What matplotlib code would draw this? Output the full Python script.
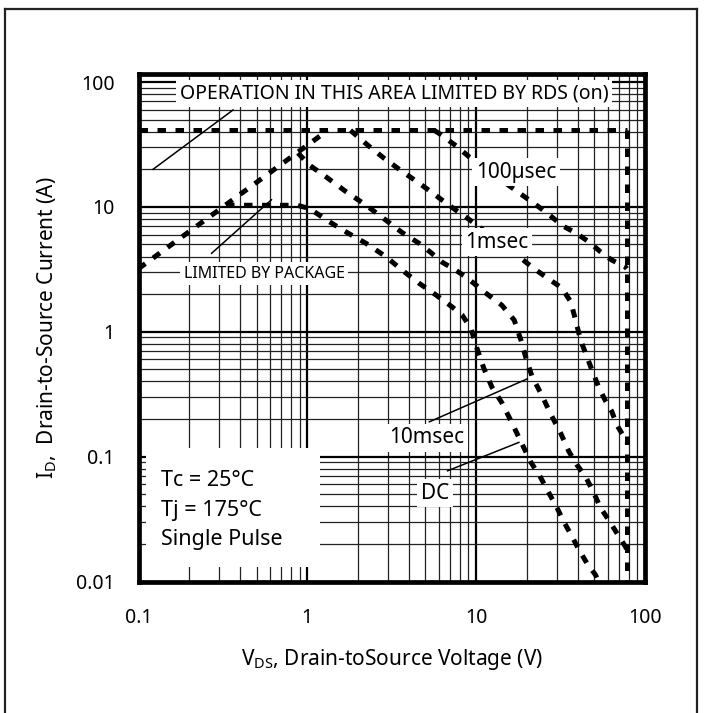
import matplotlib
matplotlib.use('Agg')
import matplotlib.pyplot as plt
from matplotlib.patches import Rectangle
from matplotlib.lines import Line2D
from matplotlib.ticker import LogLocator, FixedLocator, FixedFormatter, NullFormatter

plt.rcParams['font.family'] = ['Noto Sans', 'DejaVu Sans']
plt.rcParams['mathtext.fontset'] = 'custom'
plt.rcParams['mathtext.rm'] = 'Noto Sans'
plt.rcParams['mathtext.it'] = 'Noto Sans'

# ---------------- data ----------------
x_ticks = [0.1, 1, 10, 100]
x_tick_labels = ['0.1', '1', '10', '100']
y_ticks = [0.01, 0.1, 1, 10, 100]
y_tick_labels = ['0.01', '0.1', '1', '10', '100']

# RDS(on) limit line
rds_v = [0.1, 1.32]
rds_i = [3.2, 41]
# package current limit
pkg_v = [0.1, 78]
pkg_i = [41, 41]
# breakdown voltage limit
bv_v = [78, 78]
bv_i = [41, 0.01]

us100_v = [5.65, 6.04, 7.76, 9.1, 18.8, 23.5, 28.1, 32.2, 38.8, 46.5, 54.5, 63.6, 76.6, 78]
us100_i = [41, 38.7, 30.2, 25.1, 12.4, 10.0, 8.3, 7.1, 6.2, 5.25, 4.37, 3.75, 3.3, 3.2]

ms1_v = [1.8, 2.28, 2.86, 3.67, 4.5, 5.4, 6.3, 7.6, 8.9, 17.9, 21.4, 25.8, 32.2, 36.3,
         38.8, 41.5, 45.3, 49.8, 53.2, 58.3, 63.6, 68, 74.8, 78]
ms1_i = [41, 31.2, 24.4, 19.1, 15.8, 13.2, 11.3, 9.4, 8.1, 4.0, 3.3, 2.75, 2.24, 1.74,
         1.24, 0.86, 0.63, 0.45, 0.36, 0.28, 0.23, 0.18, 0.145, 0.13]

ms10_v = [0.88, 1.03, 1.32, 1.7, 2.23, 2.93, 3.66, 4.6, 5.4, 6.3, 7.6, 8.85, 11.4, 14.2,
          16.8, 18.4, 19.7, 21.4, 24.5, 27.6, 31.6, 35.4, 39.5, 44.5, 49.8, 54.5, 61, 68,
          76.6, 78]
ms10_i = [27, 21.6, 17, 13.2, 10.3, 7.8, 6.2, 5.1, 4.3, 3.6, 3.1, 2.7, 2.04, 1.63,
          1.24, 0.86, 0.62, 0.44, 0.31, 0.22, 0.155, 0.11, 0.086, 0.069, 0.051, 0.039,
          0.031, 0.0245, 0.019, 0.018]

dc_v = [0.33, 0.87, 1.03, 1.35, 1.73, 2.23, 2.93, 3.66, 4.6, 5.78, 7.21, 8.26, 9.3, 10.1,
        11.1, 12.4, 14.2, 16.3, 18.4, 21, 24.1, 27, 30.1, 33.1, 36.9, 40.6, 45.3, 50.9, 53]
dc_i = [10.3, 10.3, 9.7, 7.6, 6.2, 5.1, 3.98, 3.1, 2.44, 1.97, 1.58, 1.36, 1.07, 0.74,
        0.51, 0.36, 0.27, 0.186, 0.132, 0.091, 0.068, 0.051, 0.039, 0.030, 0.023, 0.018,
        0.014, 0.0113, 0.010]

# ---------------- figure ----------------
W, H = 707, 713
fig = plt.figure(figsize=(W / 100, H / 100), dpi=100)
ax = fig.add_axes([138.5 / W, 1 - 581.5 / H, (645 - 138.5) / W, (581.5 - 73.5) / H])

ax.set_xscale('log')
ax.set_yscale('log')
ax.set_xlim(0.1, 100)
ax.set_ylim(0.01, 117)

ax.xaxis.set_major_locator(FixedLocator(x_ticks))
ax.xaxis.set_major_formatter(FixedFormatter(x_tick_labels))
ax.yaxis.set_major_locator(FixedLocator(y_ticks))
ax.yaxis.set_major_formatter(FixedFormatter(y_tick_labels))
ax.xaxis.set_minor_locator(LogLocator(base=10, subs=range(2, 10), numticks=20))
ax.yaxis.set_minor_locator(LogLocator(base=10, subs=range(2, 10), numticks=20))
ax.xaxis.set_minor_formatter(NullFormatter())
ax.yaxis.set_minor_formatter(NullFormatter())

ax.set_axisbelow(True)
ax.grid(which='major', color='black', lw=1.6)
ax.grid(which='minor', color='#222222', lw=0.9)
ax.tick_params(which='both', length=0)
ax.tick_params(axis='y', labelsize=14, pad=17)
ax.tick_params(axis='x', labelsize=14, pad=19)

for s in ax.spines.values():
    s.set_linewidth(3.4)
    s.set_zorder(10)

dash = (0, (1.7, 1.9))
lw = 3.6
for v, i in [(pkg_v, pkg_i), (bv_v, bv_i), (rds_v, rds_i), (us100_v, us100_i),
             (ms1_v, ms1_i), (ms10_v, ms10_i), (dc_v, dc_i)]:
    ax.plot(v, i, color='black', lw=lw, linestyle=dash, dash_capstyle='butt', zorder=3)

ax.set_xlabel(r'V$_{\mathrm{DS}}$, Drain-toSource Voltage (V)', fontsize=15, labelpad=14)
ax.set_ylabel(r'I$_{\mathrm{D}}$,  Drain-to-Source Current (A)', fontsize=15, labelpad=12)

# white box with test conditions
ax.add_patch(Rectangle((0.015, 0.0285), 0.343, 0.234, transform=ax.transAxes,
                       facecolor='white', edgecolor='none', zorder=4))
for t, yf in [('Tc = 25°C', 0.1998), ('Tj = 175°C', 0.1407), ('Single Pulse', 0.0817)]:
    ax.text(0.044, yf, t, transform=ax.transAxes, fontsize=15.5, va='center', ha='left', zorder=5)

box = dict(facecolor='white', edgecolor='none', pad=2.5)
labels = [
    ('OPERATION IN THIS AREA LIMITED BY RDS (on)', 0.5044, 0.9606, 14),
    ('LIMITED BY PACKAGE', 0.2478, 0.6059, 11.5),
    ('100µsec', 0.7453, 0.8061, 15),
    ('1msec', 0.7078, 0.6683, 15),
    ('10msec', 0.5696, 0.2825, 15),
    ('DC', 0.5854, 0.1742, 15),
]
for t, xf, yf, fs in labels:
    ax.text(xf, yf, t, transform=ax.transAxes, fontsize=fs, ha='center', va='center',
            bbox=box, zorder=6)

pointers = [
    ((5.28, 0.19), (20.1, 0.42)),
    ((6.77, 0.077), (17.9, 0.13)),
    ((0.122, 20), (0.363, 59.7)),
    ((0.271, 4.25), (0.613, 11.4)),
]
for (x0, y0), (x1, y1) in pointers:
    ax.plot([x0, x1], [y0, y1], color='black', lw=1.1, zorder=5)

# outer frame of the figure
for xs, ys in [([5, 5], [0, H - 9]), ([5, 697], [H - 9, H - 9]), ([697, 697], [0, H - 9])]:
    fig.add_artist(Line2D([x / W for x in xs], [y / H for y in ys], color='#222222', lw=1.6,
                          transform=fig.transFigure))

fig.savefig('out.png', dpi=100)
